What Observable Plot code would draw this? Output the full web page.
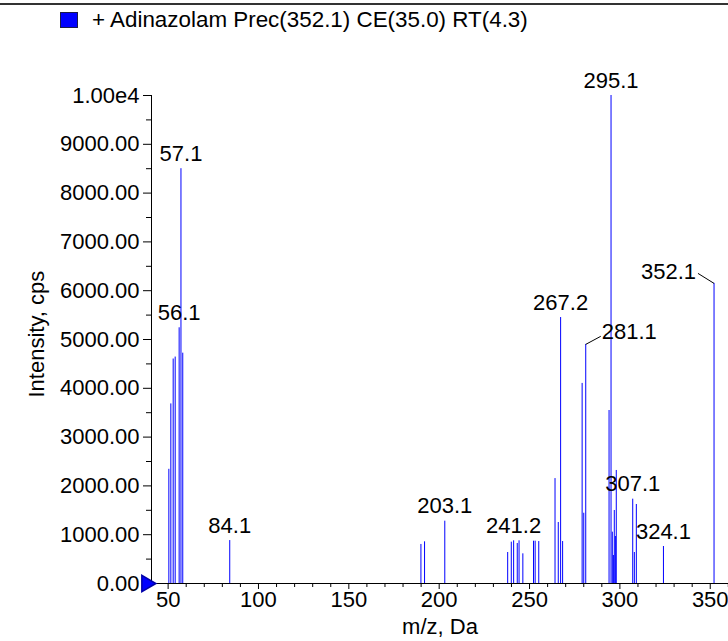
<!DOCTYPE html>
<html>
<head>
<meta charset="utf-8">
<script src="https://cdn.jsdelivr.net/npm/d3@7"></script>
<script src="https://cdn.jsdelivr.net/npm/@observablehq/plot@0.6"></script>
<style>
  html, body { margin: 0; padding: 0; background: #fff; }
  #wrap { position: relative; width: 728px; height: 641px; overflow: hidden; font-family: "Liberation Sans", Arial, sans-serif; }
  #topline { position: absolute; left: 0; top: 3px; width: 728px; height: 0; border-top: 2px solid #333; }
  #legend { position: absolute; left: 60px; top: 7px; height: 26px; display: flex; align-items: center; }
  #swatch { width: 16px; height: 14px; background: #0000ff; border: 1px solid #1a1a4a; margin-right: 14px; }
  #legend span { font-size: 22.4px; color: #000; }
  #chart { position: absolute; left: 0; top: 40px; }
</style>
</head>
<body>
<div id="wrap">
  <div id="topline"></div>
  <div id="legend"><div id="swatch"></div><span>+ Adinazolam Prec(352.1) CE(35.0) RT(4.3)</span></div>
  <div id="chart"></div>
</div>
<script>
// Peak m/z values and intensities (cps)
const mz = [50.4, 51.5, 52.8, 53.9, 56.1, 57.1, 58.1, 84.1,
  189.9, 191.9, 203.1,
  237.9, 239.9, 241.2, 243.2, 244.2, 246.3, 252.2, 253.1, 255.1,
  264.1, 265.9, 267.2, 268.3, 279.1, 280.0, 281.1,
  294.0, 295.1, 295.8, 296.4, 296.9, 297.5, 298.0,
  307.1, 308.0, 309.1, 324.1, 352.1];
const intensity = [2340, 3680, 4600, 4640, 5240, 8500, 4720, 880,
  800, 854, 1277,
  635, 847, 875, 820, 875, 608, 867, 867, 860,
  2150, 1250, 5450, 860, 4100, 1440, 4900,
  3545, 10000, 1052, 574, 1496, 963, 2316,
  1728, 635, 1619, 758, 6150];

// Labelled peaks
const labelMz = [57.1, 56.1, 84.1, 203.1, 241.2, 267.2, 295.1, 307.1, 324.1];
const labelInt = [8500, 5240, 880, 1277, 875, 5450, 10000, 1728, 758];
// Labels with leader lines
const leaderRightMz = [281.1];
const leaderRightInt = [4900];
const leaderLeftMz = [352.1];
const leaderLeftInt = [6150];

const yTicks = [0, 1000, 2000, 3000, 4000, 5000, 6000, 7000, 8000, 9000, 10000];
const yMinorTicks = [500, 1500, 2500, 3500, 4500, 5500, 6500, 7500, 8500, 9500];
const xTicks = [50, 100, 150, 200, 250, 300, 350];
const xMinorTicks = [60, 70, 80, 90, 110, 120, 130, 140, 160, 170, 180, 190, 210, 220, 230, 240, 260, 270, 280, 290, 310, 320, 330, 340, 360];
const xDomain = [40.8, 360.1];

const peaks = mz.map((m, i) => ({mz: m, int: intensity[i]}));
const labels = labelMz.map((m, i) => ({mz: m, int: labelInt[i]}));
const lr = leaderRightMz.map((m, i) => ({mz: m, int: leaderRightInt[i]}));
const ll = leaderLeftMz.map((m, i) => ({mz: m, int: leaderLeftInt[i]}));

const yFmt = v => v === 10000 ? "1.00e4" : v.toFixed(2);
const FS = 22;

const chart = Plot.plot({
  width: 728,
  height: 601,
  marginLeft: 151,
  marginRight: 0,
  marginTop: 55,
  marginBottom: 58,
  style: {fontFamily: "'Liberation Sans', Arial, sans-serif", fontSize: FS + "px", color: "#000", background: "#fff", overflow: "visible"},
  x: {domain: xDomain, label: null},
  y: {domain: [0, 10000], label: null},
  marks: [
    Plot.ruleX(peaks, {x: "mz", y1: 0, y2: "int", stroke: "#0000ff", strokeWidth: 1}),
    // axis lines
    Plot.ruleX([xDomain[0]], {stroke: "#000", strokeWidth: 1, y1: 0, y2: 10000}),
    Plot.ruleY([0], {stroke: "#000", strokeWidth: 1}),
    // y axis
    Plot.axisY({ticks: yTicks, tickFormat: yFmt, tickSize: 8, tickPadding: 4, fontSize: FS, stroke: "#000"}),
    Plot.axisY({ticks: yMinorTicks, tickFormat: () => "", tickSize: 5, stroke: "#000"}),
    // x axis
    Plot.axisX({ticks: xTicks, tickSize: 6, tickPadding: 2, fontSize: FS, stroke: "#000"}),
    Plot.axisX({ticks: xMinorTicks, tickSize: 4, tickFormat: () => "", stroke: "#000"}),
    // axis titles
    Plot.text(["m/z, Da"], {frameAnchor: "bottom", dy: 50, text: d => d, fontSize: FS}),
    Plot.text(["Intensity, cps"], {frameAnchor: "left", dx: -115, dy: 58, rotate: -90, text: d => d, fontSize: FS}),
    // zero marker
    Plot.dot([0], {x: xDomain[0], y: 0, symbol: "triangle", rotate: 90, r: 6, fill: "#0000ff", stroke: "#0000aa", dx: -5}),
    // peak labels
    Plot.text(labels, {x: "mz", y: "int", text: d => d.mz.toFixed(1), lineAnchor: "bottom", dy: -8, fontSize: FS, fill: "#000"}),
    Plot.link(lr, {x1: "mz", y1: "int", x2: d => d.mz + 8.3, y2: d => d.int + 165, stroke: "#000", strokeWidth: 1}),
    Plot.text(lr, {x: "mz", y: "int", text: d => d.mz.toFixed(1), textAnchor: "start", dx: 16, dy: -12, fontSize: FS, fill: "#000"}),
    Plot.link(ll, {x1: "mz", y1: "int", x2: d => d.mz - 8.9, y2: d => d.int + 205, stroke: "#000", strokeWidth: 1}),
    Plot.text(ll, {x: "mz", y: "int", text: d => d.mz.toFixed(1), textAnchor: "end", dx: -18, dy: -11, fontSize: FS, fill: "#000"})
  ]
});
document.getElementById("chart").appendChild(chart);
</script>
</body>
</html>
